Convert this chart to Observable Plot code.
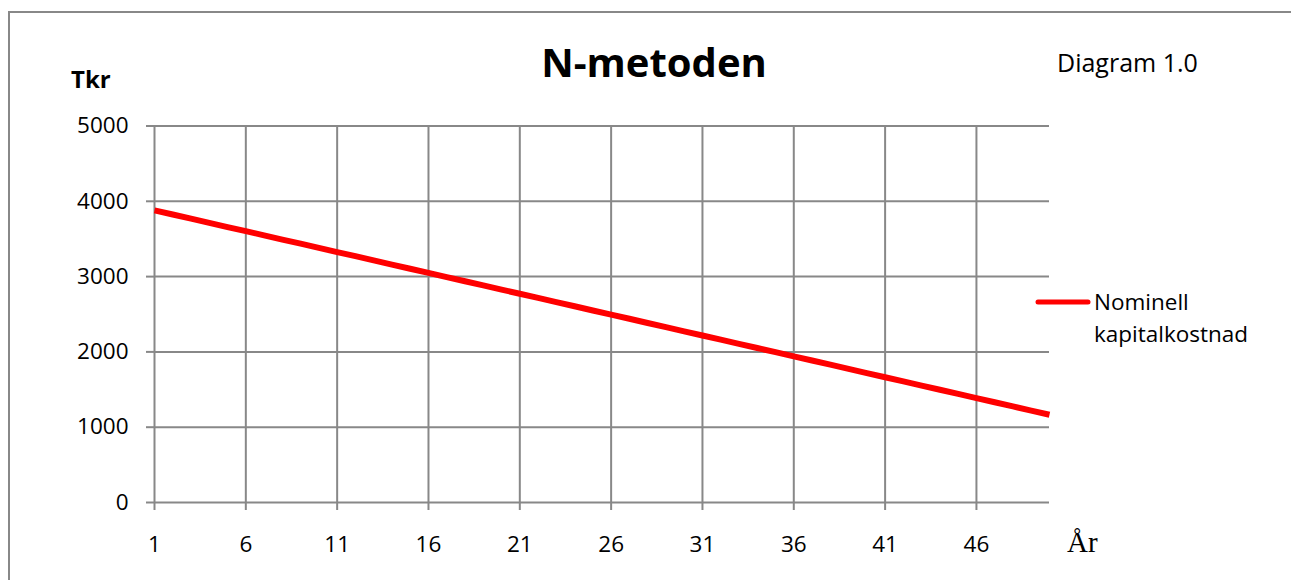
<!DOCTYPE html>
<html>
<head>
<meta charset="utf-8">
<script src="https://cdn.jsdelivr.net/npm/d3@7"></script>
<script src="https://cdn.jsdelivr.net/npm/@observablehq/plot@0.6"></script>
<style>
  html, body { margin: 0; padding: 0; background: #fff; }
  #chart svg { display: block; }
</style>
</head>
<body>
<div id="chart"></div>
<script>
// Nominal capital cost (Tkr) per year under the N-method
const years = [1, 2, 3, 4, 5, 6, 7, 8, 9, 10,
  11, 12, 13, 14, 15, 16, 17, 18, 19, 20,
  21, 22, 23, 24, 25, 26, 27, 28, 29, 30,
  31, 32, 33, 34, 35, 36, 37, 38, 39, 40,
  41, 42, 43, 44, 45, 46, 47, 48, 49, 50];

const kostnad = [3880, 3825, 3769, 3714, 3658, 3603, 3548, 3492, 3437, 3381,
  3326, 3271, 3215, 3160, 3104, 3049, 2994, 2938, 2883, 2827,
  2772, 2717, 2661, 2606, 2550, 2495, 2440, 2384, 2329, 2273,
  2218, 2163, 2107, 2052, 1996, 1941, 1886, 1830, 1775, 1719,
  1664, 1609, 1553, 1498, 1442, 1387, 1332, 1276, 1221, 1165];

const xTicks = [1, 6, 11, 16, 21, 26, 31, 36, 41, 46];
const yTicks = [0, 1000, 2000, 3000, 4000, 5000];

const title = "N-metoden";
const yLabel = "Tkr";
const xLabel = "År";
const note = "Diagram 1.0";
const seriesName = ["Nominell", "kapitalkostnad"];

const data = years.map((year, i) => ({year, value: kostnad[i]}));

const gridColor = "#888888";
const lineColor = "#ff0000";
const font = "'Open Sans', 'Noto Sans', sans-serif";

const chart = Plot.plot({
  width: 1291,
  height: 580,
  marginLeft: 154,
  marginRight: 242,
  marginTop: 125.5,
  marginBottom: 78,
  x: {domain: [1, 50]},
  y: {domain: [0, 5000]},
  style: {
    fontFamily: font,
    fontSize: "22.5px",
    color: "black",
    background: "white",
    overflow: "visible"
  },
  marks: [
    Plot.gridX(xTicks, {stroke: gridColor, strokeOpacity: 1, strokeWidth: 2}),
    Plot.gridY(yTicks, {stroke: gridColor, strokeOpacity: 1, strokeWidth: 2}),
    Plot.axisX(xTicks, {tickSize: 8, tickPadding: 26, stroke: gridColor, strokeWidth: 2, label: null, tickFormat: d => String(d)}),
    Plot.axisY(yTicks, {tickSize: 8, tickPadding: 18, stroke: gridColor, strokeWidth: 2, label: null, tickFormat: d => String(d)}),
    Plot.line(data, {x: "year", y: "value", stroke: lineColor, strokeWidth: 6, strokeLinecap: "butt"})
  ]
});

document.getElementById("chart").append(chart);

const svg = d3.select(chart);

// Chart area frame
svg.insert("rect", ":first-child")
  .attr("x", 9).attr("y", 12)
  .attr("width", 1320).attr("height", 620)
  .attr("fill", "white")
  .attr("stroke", gridColor)
  .attr("stroke-width", 2);

const g = svg.append("g")
  .attr("font-family", font)
  .attr("text-anchor", "start");

g.append("text")
  .attr("x", 654).attr("y", 77)
  .attr("text-anchor", "middle")
  .attr("font-size", 40)
  .attr("font-weight", "bold")
  .text(title);

g.append("text")
  .attr("x", 71).attr("y", 88)
  .attr("font-size", 24)
  .attr("font-weight", "bold")
  .text(yLabel);

g.append("text")
  .attr("x", 1057).attr("y", 72)
  .attr("font-size", 25)
  .text(note);

g.append("text")
  .attr("x", 1067).attr("y", 552)
  .attr("font-family", "'Liberation Serif', 'DejaVu Serif', serif")
  .attr("font-size", 29)
  .text(xLabel);

// Legend
g.append("line")
  .attr("x1", 1038).attr("x2", 1088)
  .attr("y1", 302).attr("y2", 302)
  .attr("stroke", lineColor)
  .attr("stroke-width", 5)
  .attr("stroke-linecap", "round");

g.append("text")
  .attr("x", 1094).attr("y", 310)
  .attr("font-size", 22.5)
  .text(seriesName[0]);

g.append("text")
  .attr("x", 1094).attr("y", 342)
  .attr("font-size", 22.5)
  .text(seriesName[1]);
</script>
</body>
</html>
